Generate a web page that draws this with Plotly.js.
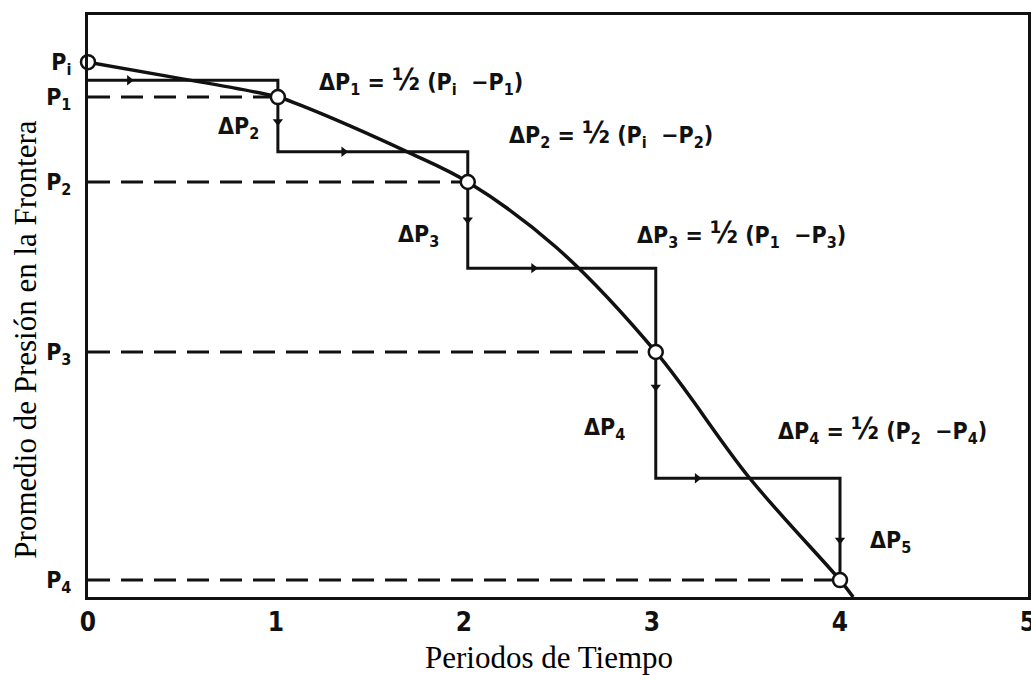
<!DOCTYPE html>
<html>
<head>
<meta charset="utf-8">
<script src="https://cdn.plot.ly/plotly-3.0.1.min.js"></script>
<style>
  html, body { margin: 0; padding: 0; background: #fff; }
  #chart { width: 1031px; height: 675px; }
</style>
</head>
<body>
<div id="chart"></div>
<script>
// Time periods at which the boundary pressure is known
const periodT = [0, 1.01, 2.02, 3.02, 4.0];
// Average boundary pressure at each of those periods
const boundaryP = [9.19, 8.59, 7.13, 4.21, 0.29];
const pTickText = ['P<sub>i</sub>', 'P<sub>1</sub>', 'P<sub>2</sub>', 'P<sub>3</sub>', 'P<sub>4</sub>'];
const xTickVals = [0, 1, 2, 3, 4, 5];
const xTickText = ['0', '1', '2', '3', '4', '5'];

// Smooth pressure–time curve
const curveT = [0, 0.42, 1.01, 1.13, 1.71, 2.02, 2.49, 3.02, 3.52, 4.0, 4.07];
const curveP = [9.19, 8.95, 8.59, 8.45, 7.63, 7.13, 6.01, 4.21, 2.04, 0.29, 0.0];

// Step approximation of the pressure history
const stepT = [0, 1.01, 1.01, 2.02, 2.02, 3.02, 3.02, 4.0, 4.0];
const stepP = [8.88, 8.88, 7.65, 7.65, 5.65, 5.65, 2.04, 2.04, 0.29];

// Direction arrows along the step path
const arrowRightT = [0.22, 1.36, 2.37, 3.24];
const arrowRightP = [8.88, 7.65, 5.65, 2.04];
const arrowDownT = [1.01, 2.02, 3.02, 4.0];
const arrowDownP = [8.17, 6.48, 3.61, 0.98];

const ink = '#111';
const letterFont = 'DejaVu Sans Condensed, DejaVu Sans, Liberation Sans, sans-serif';
const serifFont = 'Liberation Serif, Times New Roman, serif';

const traces = [];

// dashed reference levels from the pressure axis to each point
for (let i = 1; i < periodT.length; i++) {
  traces.push({
    x: [0, periodT[i]], y: [boundaryP[i], boundaryP[i]],
    mode: 'lines', line: { color: ink, width: 3, dash: '22px,11px' },
    hoverinfo: 'skip', showlegend: false
  });
}

traces.push({
  x: stepT, y: stepP, mode: 'lines',
  line: { color: ink, width: 3 }, showlegend: false, hoverinfo: 'skip'
});

traces.push({
  x: curveT, y: curveP, mode: 'lines',
  line: { color: ink, width: 3.5, shape: 'spline', smoothing: 1 },
  showlegend: false, hoverinfo: 'skip', cliponaxis: false
});

traces.push({
  x: arrowRightT, y: arrowRightP, mode: 'markers',
  marker: { symbol: 'triangle-right', size: 9, color: ink },
  showlegend: false, hoverinfo: 'skip'
});
traces.push({
  x: arrowDownT, y: arrowDownP, mode: 'markers',
  marker: { symbol: 'triangle-down', size: 9, color: ink },
  showlegend: false, hoverinfo: 'skip'
});

traces.push({
  x: periodT, y: boundaryP, mode: 'markers',
  marker: { symbol: 'circle', size: 14, color: '#fff', line: { color: ink, width: 2.5 } },
  showlegend: false, hoverinfo: 'skip', cliponaxis: false
});

const half = '<span style="font-size:30px">½</span>';
function formula(a, b, c) {
  return 'ΔP<sub>' + a + '</sub> = ' + half + ' (P<sub>' + b + '</sub>  −P<sub>' + c + '</sub>)';
}

const labelFont = { family: letterFont, size: 23, color: ink, weight: 'bold' };

const notes = [
  { x: 1.22, y: 8.88, text: formula('1', 'i', '1') },
  { x: 2.23, y: 7.96, text: formula('2', 'i', '2') },
  { x: 2.91, y: 6.25, text: formula('3', '1', '3') },
  { x: 3.66, y: 2.88, text: formula('4', '2', '4') },
  { x: 0.68, y: 8.06, text: 'ΔP<sub>2</sub>' },
  { x: 1.64, y: 6.2, text: 'ΔP<sub>3</sub>' },
  { x: 2.63, y: 2.88, text: 'ΔP<sub>4</sub>' },
  { x: 4.15, y: 0.94, text: 'ΔP<sub>5</sub>' }
].map(n => ({
  x: n.x, y: n.y, xref: 'x', yref: 'y', text: n.text,
  showarrow: false, xanchor: 'left', yanchor: 'middle', font: labelFont
}));

notes.push({
  text: 'Periodos de Tiempo', xref: 'paper', yref: 'paper',
  x: 0.49, y: -0.104, xanchor: 'center', yanchor: 'middle', showarrow: false,
  font: { family: serifFont, size: 31, color: '#000' }
});
notes.push({
  text: 'Promedio de Presión en la Frontera', xref: 'paper', yref: 'paper',
  x: -0.0665, y: 0.443, xanchor: 'center', yanchor: 'middle', textangle: -90,
  showarrow: false, font: { family: serifFont, size: 31, color: '#000' }
});

const layout = {
  width: 1031, height: 675,
  margin: { l: 88, r: 3, t: 15, b: 78 },
  paper_bgcolor: '#fff', plot_bgcolor: '#fff',
  showlegend: false,
  xaxis: {
    range: [0, 5], tickvals: xTickVals, ticktext: xTickText,
    showgrid: false, zeroline: false, ticks: '',
    ticklabeloverflow: 'allow',
    showline: true, mirror: true, linecolor: ink, linewidth: 3,
    tickfont: { family: letterFont, size: 26, color: ink, weight: 'bold' }
  },
  yaxis: {
    range: [0, 10], tickvals: boundaryP, ticktext: pTickText,
    showgrid: false, zeroline: false, ticks: '',
    ticklabelstandoff: 9,
    showline: true, mirror: true, linecolor: ink, linewidth: 3,
    tickfont: { family: letterFont, size: 23, color: ink, weight: 'bold' }
  },
  annotations: notes
};

Plotly.newPlot('chart', traces, layout, { displayModeBar: false, staticPlot: true });
</script>
</body>
</html>
